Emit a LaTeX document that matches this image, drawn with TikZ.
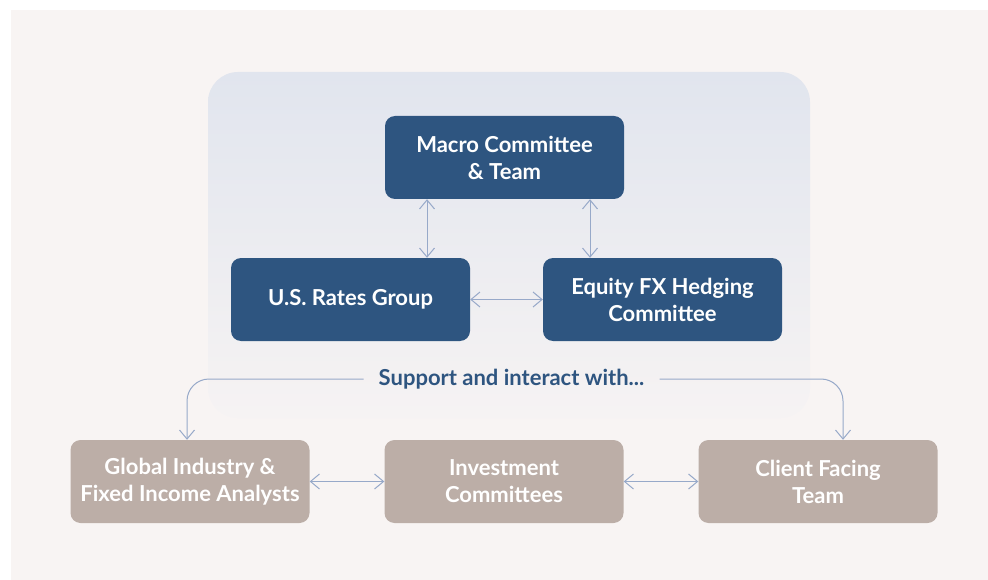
\documentclass[tikz,border=0pt]{standalone}
\usepackage{fontspec}
\setmainfont{Lato}
\usetikzlibrary{arrows.meta,positioning}
\definecolor{paper}{HTML}{F8F4F3}
\definecolor{panel}{HTML}{E1E5EE}
\definecolor{panelfade}{HTML}{F6F3F3}
\definecolor{navy}{HTML}{2E5580}
\definecolor{taupe}{HTML}{BCAEA7}
\definecolor{link}{HTML}{97A9C9}

\begin{document}
\begin{tikzpicture}[x=1pt, y=-1pt,
  box/.style={rounded corners=10pt, align=center, minimum width=239pt,
    minimum height=83pt, text=white, font=\fontsize{22}{27}\selectfont\bfseries},
  core/.style={box, fill=navy},
  outer/.style={box, fill=taupe},
  flow/.style={{Straight Barb[length=9pt,width=15pt]}-{Straight Barb[length=9pt,width=15pt]},
    draw=link, line width=1pt},
  feed/.style={-{Straight Barb[length=9pt,width=15pt]}, draw=link, line width=1pt,
    rounded corners=22pt}
]
\useasboundingbox (0,0) rectangle (988,580);
\fill[white] (0,0) rectangle (988,580);
\fill[paper] (11,10) rectangle (988,580);
% panel behind the three core groups, fading out at the bottom
\shade[top color=panel, middle color=panel, bottom color=panelfade, rounded corners=30pt]
  (208,72) rectangle (810,418);

\node[core] (macro) at (504.5,157.5) {Macro Committee\\\& Team};
\node[core] (rates) at (350.5,299.5) {U.S. Rates Group};
\node[core] (hedging) at (662.5,299.5) {Equity FX Hedging\\Committee};
\node[outer] (analysts) at (190,481.5) {Global Industry \&\\Fixed Income Analysts};
\node[outer] (invest) at (504,481.5) {Investment\\Committees};
\node[outer] (client) at (818,481.5) {Client Facing\\Team};
\node[text=navy, inner xsep=15pt, font=\fontsize{22}{23}\selectfont\bfseries]
  (support) at (511.5,379) {Support and interact with...};

\draw[flow] ([xshift=-77.5pt]macro.south) -- ([xshift=-77.5pt]macro.south |- rates.north);
\draw[flow] ([xshift=85.5pt]macro.south) -- ([xshift=85.5pt]macro.south |- hedging.north);
\draw[flow] (rates.east) -- (hedging.west);
\draw[flow] (analysts.east) -- (invest.west);
\draw[flow] (invest.east) -- (client.west);
\draw[feed] (support.west) -| ([xshift=-3pt]analysts.north);
\draw[feed] (support.east) -| ([xshift=25pt]client.north);
\end{tikzpicture}
\end{document}
